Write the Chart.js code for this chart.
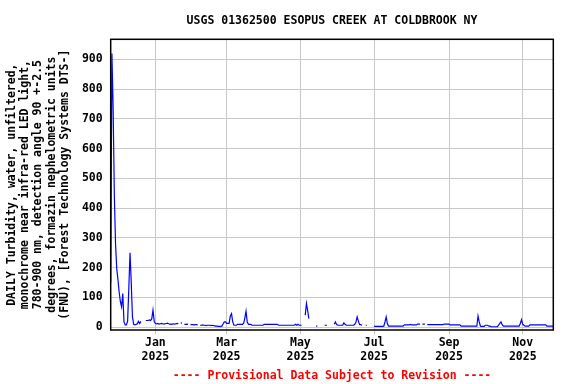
<!DOCTYPE html>
<html lang="en">
  <head>
    <meta charset="UTF-8" />
    <title>USGS 01362500 Esopus Creek at Coldbrook NY</title>
    <style>
      * {
        box-sizing: border-box;
        margin: 0;
        padding: 0;
      }

      body {
        background-color: #fff;
        width: 576px;
        height: 384px;
        overflow: hidden;
      }
    </style>
    <script src="https://cdn.jsdelivr.net/npm/chart.js"></script>
  </head>
  <body>
    <canvas id="turbidityChart" width="576" height="384"></canvas>
    <script>
      // day numbers are counted from Jan 1, 2025; the record starts Nov 25, 2024
      const firstDay = -37;
      const lastDay = 329.3;

      // daily turbidity, FNU (null = no value that day)
      const turbidity = [
        150, 920, 740, 446, 280, 196, 160, 118, 85, 68,
        113, 17, 7, 7, 20, 130, 250, 150, 34, 9,
        7, 9, 11, 19, 12, 19, null, null, null, 22,
        22, 22, 24, 22, 28, 57, 19, 12, 11, 12,
        10, 11, 12, 11, 10, 11, 12, 13, 11, 10,
        9, 10, 11, 10, 11, 12, 11, null, 14, 13,
        null, 9, 9, 10, 9, null, 8, 8, 8, 7,
        8, 8, 7, null, 6, 6, 7, 6, 6, 5,
        6, 6, 6, 5, 6, 5, 4, 3, 3, 2,
        2, 2, 3, 10, 17, 17, 12, 12, 12, 37,
        45, 17, 6, 6, 6, 9, 9, 9, 9, 9,
        12, 30, 53, 17, 9, 9, 9, 6, 6, 6,
        6, 6, 6, 6, 6, 6, 6, 9, 9, 9,
        9, 9, 9, 9, 9, 9, 9, 9, 9, 6,
        6, 6, 6, 6, 6, 6, 6, 6, 6, 6,
        6, 6, 6, 9, 6, 9, 6, 6, 6, null,
        null, 40, 79, 55, 28, null, null, null, null, null,
        3, 3, null, null, null, null, null, 6, 6, 6,
        null, null, null, null, null, 9, 17, 8, 6, 6,
        6, 6, 6, 14, 9, 6, 6, 6, 6, 6,
        6, 6, 9, 17, 34, 20, 8, 8, 6, null,
        null, 6, 6, null, null, null, null, null, 2, 2,
        2, 2, 2, 2, 2, 2, 3, 17, 34, 11,
        3, 3, 3, 3, 3, 3, 3, 3, 3, 3,
        3, 3, 3, 7, 7, 7, 7, 7, 9, 7,
        7, 7, 7, 7, 10, 10, 10, null, 10, 10,
        10, null, 8, 8, 8, 8, 8, 8, 8, 8,
        8, 8, 8, 8, 8, 8, 10, 10, 10, 10,
        10, 7, 7, 7, 7, 7, 7, 7, 7, 7,
        3, 3, 3, 3, 3, 3, 3, 3, 3, 3,
        3, 3, 3, 3, 37, 17, 3, 2, 2, 2,
        6, 6, 6, 3, 3, 1, 1, 1, 1, 1,
        1, 6, 12, 17, 8, 3, 3, 3, 3, 3,
        3, 3, 3, 3, 3, 3, 3, 3, 3, 12,
        25, 9, 6, 3, 3, 3, 3, 7, 7, 7,
        7, 7, 7, 7, 7, 7, 7, 7, 7, 7,
        7, 3, 3, 3, 3, 3, 3,
      ];

      const monthTicks = [0, 59, 120, 181, 243, 304];
      const monthNames = ["Jan", "Mar", "May", "Jul", "Sep", "Nov"];
      const yearNames = ["2025", "2025", "2025", "2025", "2025", "2025"];
      const yTicks = [0, 100, 200, 300, 400, 500, 600, 700, 800, 900];

      const yTitle = [
        "DAILY Turbidity, water, unfiltered,",
        "monochrome near infra-red LED light,",
        "780-900 nm, detection angle 90 +-2.5",
        "degrees, formazin nephelometric units",
        "(FNU), [Forest Technology Systems DTS-]",
      ];

      const font = {
        family: "'DejaVu Sans Mono', monospace",
        size: 11.5,
        weight: "bold",
        lineHeight: 1.2,
      };
      const gridColor = "#c8c8c8";

      // black frame round the plot area
      const frame = {
        id: "frame",
        afterDatasetsDraw(chart) {
          const { ctx, chartArea } = chart;
          ctx.save();
          ctx.strokeStyle = "#000";
          ctx.lineWidth = 1.5;
          ctx.strokeRect(
            chartArea.left,
            chartArea.top,
            chartArea.right - chartArea.left,
            chartArea.bottom - chartArea.top
          );
          ctx.restore();
        },
      };

      new Chart(document.getElementById("turbidityChart"), {
        type: "line",
        data: {
          datasets: [
            {
              data: turbidity.map((v, i) => ({ x: firstDay + i, y: v })),
              borderColor: "#0000ff",
              borderWidth: 1.2,
              pointRadius: 0,
              tension: 0,
              spanGaps: false,
            },
          ],
        },
        options: {
          responsive: false,
          animation: false,
          devicePixelRatio: 1,
          layout: { padding: { left: 0, right: 22.7, top: 0, bottom: 0 } },
          plugins: {
            legend: { display: false },
            tooltip: { enabled: false },
            title: {
              display: true,
              text: "USGS 01362500 ESOPUS CREEK AT COLDBROOK NY",
              color: "#000",
              font: font,
              fullSize: false,
              padding: { top: 13.8, bottom: 11.7 },
            },
            subtitle: {
              display: true,
              position: "bottom",
              text: "---- Provisional Data Subject to Revision ----",
              color: "#ff0000",
              font: font,
              fullSize: false,
              padding: { top: 0, bottom: 1.5 },
            },
          },
          scales: {
            x: {
              type: "linear",
              min: firstDay,
              max: lastDay,
              afterBuildTicks: (s) => {
                s.ticks = monthTicks.map((v) => ({ value: v }));
              },
              afterFit: (s) => {
                s.height = 38.7;
              },
              ticks: {
                autoSkip: false,
                maxRotation: 0,
                padding: 2.5,
                color: "#000",
                font: font,
                callback: (v, i) => [monthNames[i], yearNames[i]],
              },
              grid: { color: gridColor, tickLength: 4 },
              border: { display: false },
            },
            y: {
              min: -10,
              max: 968,
              afterBuildTicks: (s) => {
                s.ticks = yTicks.map((v) => ({ value: v }));
              },
              afterFit: (s) => {
                s.width = 110.7;
              },
              ticks: { padding: 8, color: "#000", font: font },
              grid: { color: gridColor, drawTicks: false },
              border: { display: false },
              title: {
                display: true,
                text: yTitle,
                color: "#000",
                font: { ...font, lineHeight: 1.15 },
                padding: { top: 5.4, bottom: 0 },
              },
            },
          },
        },
        plugins: [frame],
      });
    </script>
  </body>
</html>
